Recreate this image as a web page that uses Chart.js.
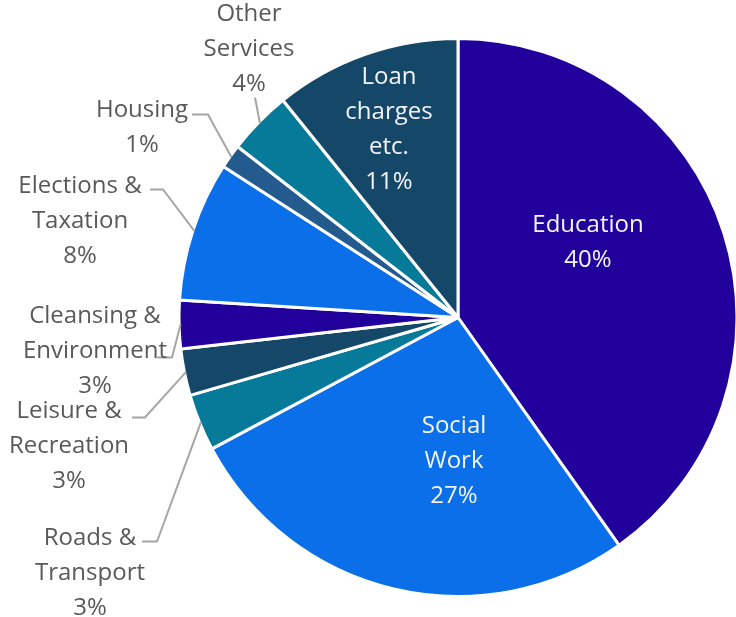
<!DOCTYPE html>
<html>
<head>
<meta charset="utf-8">
<script src="https://cdn.jsdelivr.net/npm/chart.js@4/dist/chart.umd.min.js"></script>
<style>
  html, body { margin: 0; padding: 0; background: #fff; overflow: hidden; }
  #wrap { width: 744px; height: 617px; position: relative; }
</style>
</head>
<body>
<div id="wrap"><canvas id="pie"></canvas></div>
<script>
// slice order: clockwise from 12 o'clock
const categories = [
  ['Education'],
  ['Social', 'Work'],
  ['Roads &', 'Transport'],
  ['Leisure &', 'Recreation'],
  ['Cleansing &', 'Environment'],
  ['Elections &', 'Taxation'],
  ['Housing'],
  ['Other', 'Services'],
  ['Loan', 'charges', 'etc.']
];
const shares = [40.2, 27.0, 3.3, 2.7, 2.8, 8.1, 1.4, 3.7, 10.8];
const sliceColors = ['#22009b', '#0a6fe8', '#077a9a', '#154868', '#22009b', '#0a6fe8', '#235b8f', '#077a9a', '#154868'];

// label placement, relative to the pie centre (inside labels have no leader)
const labelLayout = [
  { inside: true, dx: 130, dy: -75 },
  { inside: true, dx: -4, dy: 144 },
  { dx: -368, dy: 256, elbow: [-301, 224], end: [-316, 224] },
  { dx: -389, dy: 129, elbow: [-313, 100], end: [-326, 100] },
  { dx: -363, dy: 34, elbow: [-286, 40], end: [-301, 40] },
  { dx: -378, dy: -96, elbow: [-295, -128], end: [-308, -128] },
  { dx: -316, dy: -190, elbow: [-250, -203], end: [-266, -203] },
  { dx: -209, dy: -268, elbow: [-203, -220], end: [-203, -220] },
  { inside: true, dx: -69, dy: -188 }
];

const FONT = '24px "Open Sans", "Noto Sans", sans-serif';
const LINE_H = 35;

const pieLabels = {
  id: 'pieLabels',
  afterDatasetsDraw(chart) {
    const ctx = chart.ctx;
    const arcs = chart.getDatasetMeta(0).data;
    const total = shares.reduce((a, b) => a + b, 0);
    ctx.save();
    ctx.font = FONT;
    ctx.textAlign = 'center';
    ctx.textBaseline = 'middle';
    arcs.forEach((arc, i) => {
      const { x, y, startAngle, endAngle, outerRadius } = arc.getProps(['x', 'y', 'startAngle', 'endAngle', 'outerRadius'], true);
      const lay = labelLayout[i];
      const lines = categories[i].concat([Math.round(shares[i] / total * 100) + '%']);
      if (!lay.inside) {
        const mid = (startAngle + endAngle) / 2;
        const r = outerRadius - 1.5;
        ctx.strokeStyle = '#a6a6a6';
        ctx.lineWidth = 2;
        ctx.beginPath();
        ctx.moveTo(x + Math.cos(mid) * r, y + Math.sin(mid) * r);
        ctx.lineTo(x + lay.elbow[0], y + lay.elbow[1]);
        ctx.lineTo(x + lay.end[0], y + lay.end[1]);
        ctx.stroke();
      }
      ctx.fillStyle = lay.inside ? '#f4f4fb' : '#595959';
      const cx = x + lay.dx;
      const top = y + lay.dy - (lines.length - 1) * LINE_H / 2;
      lines.forEach((t, k) => ctx.fillText(t, cx, top + k * LINE_H));
    });
    ctx.restore();
  }
};

new Chart(document.getElementById('pie'), {
  type: 'pie',
  data: {
    labels: categories,
    datasets: [{
      data: shares,
      backgroundColor: sliceColors,
      borderColor: '#ffffff',
      borderWidth: 3,
      hoverOffset: 0
    }]
  },
  options: {
    responsive: true,
    maintainAspectRatio: false,
    animation: false,
    events: [],
    layout: { padding: { top: 37, bottom: 19, left: 177, right: 5 } },
    plugins: {
      legend: { display: false },
      tooltip: { enabled: false }
    }
  },
  plugins: [pieLabels]
});
</script>
</body>
</html>
